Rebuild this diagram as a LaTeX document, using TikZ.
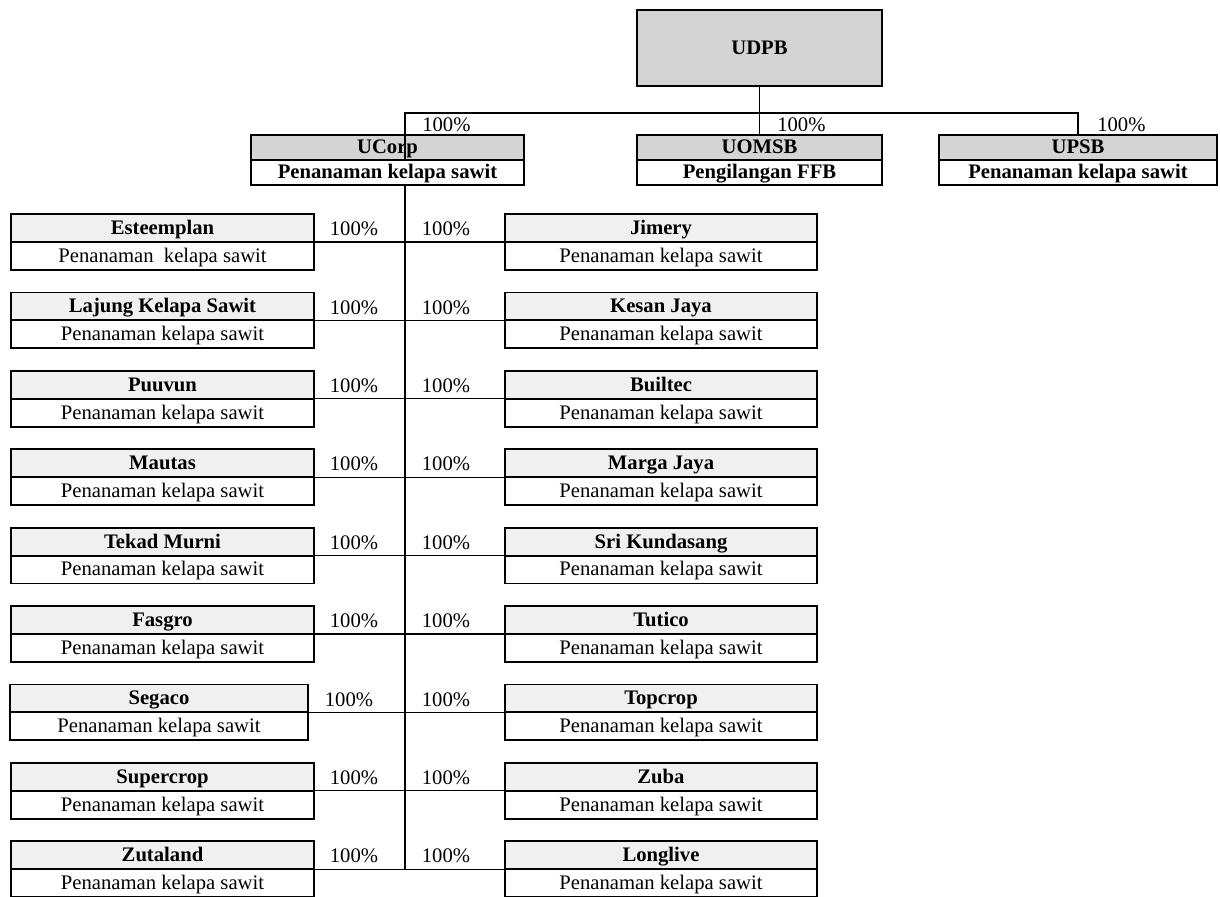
\documentclass[tikz,border=0pt]{standalone}
\usepackage{fontspec}
\setmainfont{Liberation Serif}
\usepackage{tikz}
\usetikzlibrary{shapes.multipart}

\newcommand{\rowst}{\rule[-5pt]{0pt}{19.5pt}}
\newcommand{\hdst}{\rule[-4.4pt]{0pt}{17.25pt}}

\tikzset{
    box/.style={rectangle split, rectangle split parts=2, draw, line width=1.4pt,
        inner ysep=0pt, inner xsep=2pt, rectangle split part fill={gray!12,white},
        font=\fontsize{15.5}{18}\selectfont},
    leftbox/.style={box, minimum width=227pt},
    rightbox/.style={box, minimum width=234pt},
    topbox/.style={box, rectangle split part fill={gray!34,white}},
    pct/.style={font=\fontsize{15.5}{18}\selectfont, inner sep=0pt},
    link/.style={line width=1pt}
}

\begin{document}
\begin{tikzpicture}[x=0.75pt, y=-0.75pt]
    \useasboundingbox (0,0) rectangle (1220,896);

    % top of the group
    \node[draw, line width=1.4pt, fill=gray!34, minimum width=183.75pt, minimum height=57pt,
          font=\fontsize{15.5}{18}\selectfont\bfseries] (udpb) at (759.5,48) {UDPB};

    \node[topbox, minimum width=204.75pt] (ucorp) at (387.5,160)
        {\hdst\textbf{UCorp}\nodepart{two}\hdst\textbf{Penanaman kelapa sawit}};
    \node[topbox, minimum width=183.75pt] (uomsb) at (759.5,160)
        {\hdst\textbf{UOMSB}\nodepart{two}\hdst\textbf{Pengilangan FFB}};
    \node[topbox, minimum width=208.5pt] (upsb) at (1078,160)
        {\hdst\textbf{UPSB}\nodepart{two}\hdst\textbf{Penanaman kelapa sawit}};

    \coordinate (bus) at (759.5,113);
    \draw[link] (udpb.south) -- (uomsb.north);
    \draw[link] ([xshift=13.1pt]ucorp.one split) |- (bus) -| (upsb.north);

    \node[pct, anchor=west] (pucorp) at (422,125) {100\%};
    \node[pct, anchor=west] (puomsb) at (777,125) {100\%};
    \node[pct, anchor=west] (pupsb) at (1097,125) {100\%};

    %%%%%%%%%%%%%%%%%%%%%%%%%%%%%%%%%%%%
    % subsidiaries of UCorp, left column
    %%%%%%%%%%%%%%%%%%%%%%%%%%%%%%%%%%%%
    \node[leftbox] (esteemplan) at (162.5,242)
        {\rowst\textbf{Esteemplan}\nodepart{two}\rowst Penanaman\ \ kelapa sawit};
    \node[leftbox] (lajung) at (162.5,320.4)
        {\rowst\textbf{Lajung Kelapa Sawit}\nodepart{two}\rowst Penanaman kelapa sawit};
    \node[leftbox] (puuvun) at (162.5,398.8)
        {\rowst\textbf{Puuvun}\nodepart{two}\rowst Penanaman kelapa sawit};
    \node[leftbox] (mautas) at (162.5,477.2)
        {\rowst\textbf{Mautas}\nodepart{two}\rowst Penanaman kelapa sawit};
    \node[leftbox] (tekad) at (162.5,555.6)
        {\rowst\textbf{Tekad Murni}\nodepart{two}\rowst Penanaman kelapa sawit};
    \node[leftbox] (fasgro) at (162.5,634)
        {\rowst\textbf{Fasgro}\nodepart{two}\rowst Penanaman kelapa sawit};
    \node[leftbox, minimum width=223pt] (segaco) at (159,712.4)
        {\rowst\textbf{Segaco}\nodepart{two}\rowst Penanaman kelapa sawit};
    \node[leftbox] (supercrop) at (162.5,790.8)
        {\rowst\textbf{Supercrop}\nodepart{two}\rowst Penanaman kelapa sawit};
    \node[leftbox] (zutaland) at (162.5,869.2)
        {\rowst\textbf{Zutaland}\nodepart{two}\rowst Penanaman kelapa sawit};

    %%%%%%%%%%%%%%%%%%%%%%%%%%%%%%%%%%%%
    % subsidiaries of UCorp, right column
    %%%%%%%%%%%%%%%%%%%%%%%%%%%%%%%%%%%%
    \node[rightbox] (jimery) at (661,242)
        {\rowst\textbf{Jimery}\nodepart{two}\rowst Penanaman kelapa sawit};
    \node[rightbox] (kesan) at (661,320.4)
        {\rowst\textbf{Kesan Jaya}\nodepart{two}\rowst Penanaman kelapa sawit};
    \node[rightbox] (builtec) at (661,398.8)
        {\rowst\textbf{Builtec}\nodepart{two}\rowst Penanaman kelapa sawit};
    \node[rightbox] (marga) at (661,477.2)
        {\rowst\textbf{Marga Jaya}\nodepart{two}\rowst Penanaman kelapa sawit};
    \node[rightbox] (kundasang) at (661,555.6)
        {\rowst\textbf{Sri Kundasang}\nodepart{two}\rowst Penanaman kelapa sawit};
    \node[rightbox] (tutico) at (661,634)
        {\rowst\textbf{Tutico}\nodepart{two}\rowst Penanaman kelapa sawit};
    \node[rightbox] (topcrop) at (661,712.4)
        {\rowst\textbf{Topcrop}\nodepart{two}\rowst Penanaman kelapa sawit};
    \node[rightbox] (zuba) at (661,790.8)
        {\rowst\textbf{Zuba}\nodepart{two}\rowst Penanaman kelapa sawit};
    \node[rightbox] (longlive) at (661,869.2)
        {\rowst\textbf{Longlive}\nodepart{two}\rowst Penanaman kelapa sawit};

    % trunk and row links
    \draw[link] ([xshift=13.1pt]ucorp.south) -- ([xshift=13.1pt]ucorp.south |- zutaland.one split east);
    \draw[link] (esteemplan.one split east) -- (jimery.one split west);
    \draw[link] (lajung.one split east) -- (kesan.one split west);
    \draw[link] (puuvun.one split east) -- (builtec.one split west);
    \draw[link] (mautas.one split east) -- (marga.one split west);
    \draw[link] (tekad.one split east) -- (kundasang.one split west);
    \draw[link] (fasgro.one split east) -- (tutico.one split west);
    \draw[link] (segaco.one split east) -- (topcrop.one split west);
    \draw[link] (supercrop.one split east) -- (zuba.one split west);
    \draw[link] (zutaland.one split east) -- (longlive.one split west);

    % shares
    \node[pct] (pl1) at (354,229) {100\%};
    \node[pct] (pl2) at (354,307.4) {100\%};
    \node[pct] (pl3) at (354,385.8) {100\%};
    \node[pct] (pl4) at (354,464.2) {100\%};
    \node[pct] (pl5) at (354,542.6) {100\%};
    \node[pct] (pl6) at (354,621) {100\%};
    \node[pct] (pl7) at (349,699.4) {100\%};
    \node[pct] (pl8) at (354,777.8) {100\%};
    \node[pct] (pl9) at (354,856.2) {100\%};

    \node[pct] (pr1) at (446,229) {100\%};
    \node[pct] (pr2) at (446,307.4) {100\%};
    \node[pct] (pr3) at (446,385.8) {100\%};
    \node[pct] (pr4) at (446,464.2) {100\%};
    \node[pct] (pr5) at (446,542.6) {100\%};
    \node[pct] (pr6) at (446,621) {100\%};
    \node[pct] (pr7) at (446,699.4) {100\%};
    \node[pct] (pr8) at (446,777.8) {100\%};
    \node[pct] (pr9) at (446,856.2) {100\%};

\end{tikzpicture}
\end{document}
